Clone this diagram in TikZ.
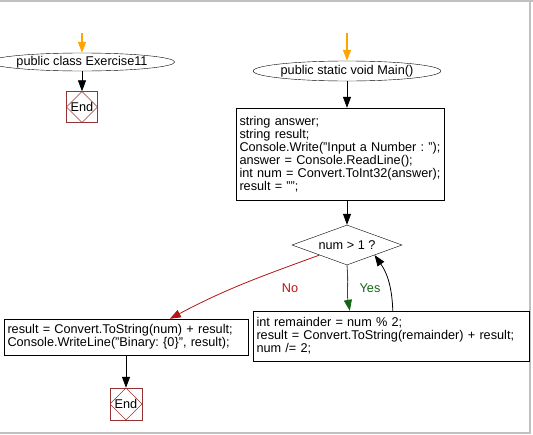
\documentclass[tikz,border=0pt]{standalone}
\usepackage{fontspec}
\setmainfont{Liberation Sans}
\usetikzlibrary{shapes.geometric,arrows.meta}
\definecolor{endred}{RGB}{150,50,50}
\definecolor{arrorange}{RGB}{255,165,0}
\definecolor{nored}{RGB}{180,20,20}
\definecolor{yesgreen}{RGB}{20,100,20}
\definecolor{bordergray}{RGB}{192,192,192}
\newcommand{\codeln}[1]{\mbox{#1}}
\tikzset{
  fc/.style={font=\fontsize{12.7}{13}\selectfont\frenchspacing},
  startell/.style={fc,ellipse,draw=black,inner sep=0pt},
  proc/.style={fc,rectangle,draw=black,inner xsep=3.5pt,inner ysep=2pt,align=left},
  decis/.style={fc,diamond,aspect=2.75,draw=black,inner sep=0pt},
  endbox/.style={fc,rectangle,draw=endred,minimum size=31pt,inner sep=0pt,
    path picture={\draw[endred] (path picture bounding box.north) -- (path picture bounding box.east) -- (path picture bounding box.south) -- (path picture bounding box.west) -- cycle;}},
  conn/.style={-{Triangle[length=11pt,width=8pt]},line width=0.8pt},
  oconn/.style={conn,draw=arrorange,line width=1.2pt,-{Triangle[length=11pt,width=8pt,fill=arrorange]}},
  lbl/.style={fc,inner sep=0pt}
}
\begin{document}
\begin{tikzpicture}[x=1pt,y=-1pt]
\useasboundingbox (0,0) rectangle (533,434);
\fill[bordergray] (0,0) rectangle (533,2);
\fill[bordergray] (528.5,0) rectangle (531,434);
\fill[bordergray] (0,431.5) rectangle (531,434);

% left column
\coordinate (o1) at (82,33);
\node[startell,minimum width=153pt,minimum height=18pt] (e1) at (82,62) {public class Exercise11};
\node[endbox] (end1) at (82,107) {End};
\draw[oconn] (o1) -- (e1.north);
\draw[conn] (e1.south) -- (end1.north);

% main column
\coordinate (o2) at (347,33);
\node[startell,minimum width=155pt,minimum height=20pt] (e2) at (347,71) {public static void Main()};
\node[proc,minimum width=208pt,minimum height=92pt,text width=201pt] (p1) at (340,154) {\codeln{string answer;}\\\codeln{string result;}\\\codeln{Console.Write("Input a Number : ");}\\\codeln{answer = Console.ReadLine();}\\\codeln{int num = Convert.ToInt32(answer);}\\\codeln{result = "";}};
\node[decis,minimum width=110pt,minimum height=40pt] (d) at (347,245) {num > 1 ?};
\node[proc,minimum width=244pt,minimum height=36pt,text width=237pt] (l) at (126,337) {\codeln{result = Convert.ToString(num) + result;}\\\codeln{Console.WriteLine("Binary: \{0\}", result);}};
\node[proc,minimum width=276pt,minimum height=50pt,text width=269pt] (r) at (391,336) {\codeln{int remainder = num \% 2;}\\\codeln{result = Convert.ToString(remainder) + result;}\\\codeln{num /= 2;}};
\node[endbox,minimum size=32pt] (end2) at (126,404) {End};

\draw[oconn] (o2) -- (e2.north);
\draw[conn] (e2.south) -- (e2.south |- p1.north);
\draw[conn] (d.north |- p1.south) -- (d.north);
\draw[conn,draw=yesgreen,-{Triangle[length=11pt,width=8pt,fill=yesgreen]}] (d.south) to[out=-85,in=100] ([xshift=97pt]r.north west);
\draw[conn] ([xshift=140pt]r.north west) to[out=92,in=-55] (d.south east);
\draw[conn,draw=nored,-{Triangle[length=11pt,width=8pt,fill=nored]}] (d.south west) to[out=-160,in=28] ([xshift=166pt]l.north west);
\node[lbl,text=nored] (nolbl) at (290,288) {No};
\node[lbl,text=yesgreen] (yeslbl) at (370,288) {Yes};
\draw[conn] (l.south) -- (end2.north);
\end{tikzpicture}
\end{document}
